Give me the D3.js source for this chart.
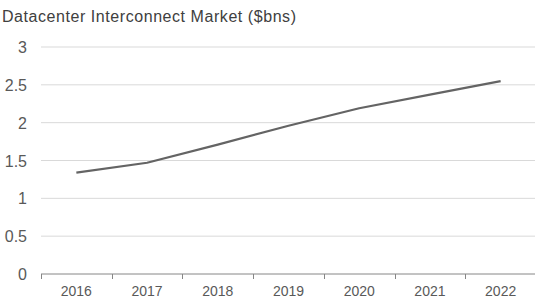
<!DOCTYPE html>
<html>
<head>
<meta charset="utf-8">
<script src="https://cdn.jsdelivr.net/npm/d3@7"></script>
<style>
  body { margin: 0; background: #fff; }
  text { font-family: "Liberation Sans", Arial, sans-serif; }
</style>
</head>
<body>
<script>
var years = ["2016", "2017", "2018", "2019", "2020", "2021", "2022"];
var market = [1.34, 1.47, 1.71, 1.96, 2.19, 2.37, 2.55];
var yTicks = [0, 0.5, 1, 1.5, 2, 2.5, 3];

var width = 535, height = 302;
var svg = d3.select("body").append("svg")
    .attr("width", width)
    .attr("height", height);

var x = d3.scaleBand().domain(years).range([41, 536]);
var y = d3.scaleLinear().domain([0, 3]).range([274, 47]);

svg.append("text")
    .attr("x", 2).attr("y", 22)
    .style("font-size", "16px")
    .style("fill", "#404040")
    .attr("textLength", 294)
    .attr("lengthAdjust", "spacing")
    .text("Datacenter Interconnect Market ($bns)");

// gridlines
svg.append("g").selectAll("line")
    .data(yTicks.filter(function(d) { return d > 0; }))
    .enter().append("line")
    .attr("x1", 41).attr("x2", 535)
    .attr("y1", function(d) { return y(d); })
    .attr("y2", function(d) { return y(d); })
    .attr("stroke", "#d9d9d9")
    .attr("stroke-width", 1);

// y labels
svg.append("g").selectAll("text")
    .data(yTicks).enter().append("text")
    .attr("x", 27)
    .attr("y", function(d) { return y(d) + 6; })
    .attr("text-anchor", "end")
    .style("font-size", "16px")
    .style("fill", "#595959")
    .text(function(d) { return d; });

// x axis
var xAxis = svg.append("g").attr("transform", "translate(0," + y(0) + ")");
xAxis.append("line")
    .attr("x1", 41).attr("x2", 535)
    .attr("stroke", "#868686");
var bounds = years.map(function(d) { return x(d); });
bounds.push(x(years[years.length - 1]) + x.bandwidth());
xAxis.selectAll(".tk").data(bounds).enter().append("line")
    .attr("x1", function(d) { return Math.round(d) + 0.5; })
    .attr("x2", function(d) { return Math.round(d) + 0.5; })
    .attr("y1", 0).attr("y2", 5)
    .attr("stroke", "#868686");
xAxis.selectAll("text").data(years).enter().append("text")
    .attr("x", function(d) { return x(d) + x.bandwidth() / 2; })
    .attr("y", 22)
    .attr("text-anchor", "middle")
    .style("font-size", "14px")
    .style("fill", "#595959")
    .text(function(d) { return d; });

var line = d3.line()
    .x(function(d, i) { return x(years[i]) + x.bandwidth() / 2; })
    .y(function(d) { return y(d); });

svg.append("path")
    .datum(market)
    .attr("d", line)
    .attr("fill", "none")
    .attr("stroke", "#646464")
    .attr("stroke-width", 2.2)
    .attr("stroke-linejoin", "round");
</script>
</body>
</html>
